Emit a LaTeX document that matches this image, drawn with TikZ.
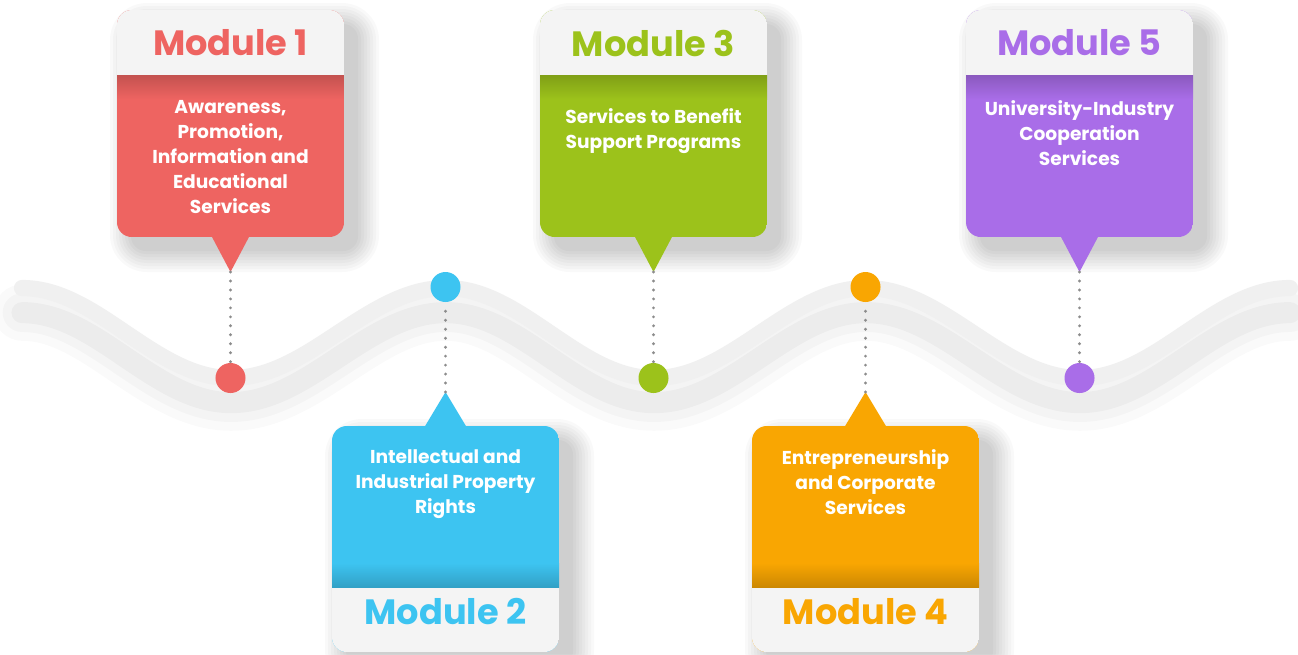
\documentclass[tikz,border=0pt]{standalone}
\usepackage{fontspec}
\setmainfont{Poppins}
\definecolor{cRed}{HTML}{EE6461}
\definecolor{cGreen}{HTML}{9CC21B}
\definecolor{cPurple}{HTML}{A96DE8}
\definecolor{cBlue}{HTML}{3DC4F1}
\definecolor{cOrange}{HTML}{F9A602}
\definecolor{headbg}{HTML}{F4F4F4}
\definecolor{waveC}{HTML}{F0F0F0}
\definecolor{dotC}{HTML}{8C8C8C}
\tikzset{
  headtxt/.style={font=\fontsize{10}{11}\selectfont\bfseries, inner sep=0pt},
  bodytxt/.style={font=\fontsize{5.3}{7.1}\selectfont\bfseries, text=white, align=center, inner sep=0pt, anchor=north},
  dotnode/.style={circle, inner sep=0pt, minimum size=0.3cm},
  dotline/.style={draw=dotC, line width=0.9pt, dash pattern=on 0pt off 2.55pt, line cap=round},
  shadowlayer/.style={fill=black, opacity=0.022},
  wave/.style={insert path={(22,288) cos (126,333) sin (231,378) cos (338,333) sin (446,288) cos (550,333) sin (654,378) cos (760,333) sin (866,288) cos (973,333) sin (1080,378) cos (1185,333) sin (1290,288)}}
}
% soft shadow of a box: #1 left, #2 top, #3 right, #4 bottom
\newcommand{\softshadow}[4]{%
  \foreach \i in {0,...,7}{%
    \fill[shadowlayer, rounded corners={(4.2+0.9*\i)*1pt}] (#1+14-3*\i,#2+14-3*\i) rectangle (#3+14+3*\i,#4+14+3*\i);
  }%
}
% #1 left x, #2 colour, #3 id, #4 header, #5 body text, #6 text top y
\newcommand{\modtop}[6]{%
  \softshadow{#1}{10}{#1+227}{237}
  \begin{scope}
    \clip[rounded corners=4.2pt] (#1,10) rectangle ++(227,227);
    \fill[#2] (#1,10) rectangle ++(227,227);
    \fill[headbg] (#1,10) rectangle ++(227,65);
    \shade[top color=#2!82!black, bottom color=#2] (#1,75) rectangle ++(227,24);
  \end{scope}
  \fill[#2] (#1+94.5,236) -- (#1+132.5,236) -- (#1+113.5,272) -- cycle;
  \coordinate (tip#3) at (#1+113.5,272);
  \node[headtxt, text=#2] (h#3) at (#1+113.5,43) {#4};
  \node[bodytxt] (b#3) at (#1+113.5,#6) {#5};
  \node[dotnode, fill=#2] (d#3) at (#1+113.5,378) {};
  \draw[dotline] (tip#3) -- (d#3);
}
\newcommand{\modbot}[6]{%
  \softshadow{#1}{426}{#1+227}{652}
  \begin{scope}
    \clip[rounded corners=4.2pt] (#1,426) rectangle ++(227,226);
    \fill[#2] (#1,426) rectangle ++(227,226);
    \fill[headbg] (#1,587) rectangle ++(227,65);
    \shade[top color=#2, bottom color=#2!82!black] (#1,563) rectangle ++(227,24);
  \end{scope}
  \fill[#2] (#1+92.5,427) -- (#1+134.5,427) -- (#1+113.5,392) -- cycle;
  \coordinate (tip#3) at (#1+113.5,392);
  \node[headtxt, text=#2] (h#3) at (#1+113.5,612) {#4};
  \node[bodytxt] (b#3) at (#1+113.5,#6) {#5};
  \node[dotnode, fill=#2] (d#3) at (#1+113.5,287) {};
  \draw[dotline] (tip#3) -- (d#3);
}
\begin{document}
\begin{tikzpicture}[x=0.01cm,y=-0.01cm]
\useasboundingbox (0,0) rectangle (1298,654);
\fill[white] (0,0) rectangle (1298,654);
% wave shadow
\begin{scope}[yshift=-7pt]
  \draw[line width=16pt, black, opacity=0.02, line cap=round] [wave];
  \draw[line width=11pt, black, opacity=0.025, line cap=round] [wave];
  \draw[line width=6pt, black, opacity=0.03, line cap=round] [wave];
\end{scope}
\draw[line width=4.6pt, waveC, line cap=round] [wave];
% modules
\modtop{117}{cRed}{1}{Module 1}{Awareness,\\Promotion,\\Information and\\Educational\\Services}{100}
\modtop{540}{cGreen}{3}{Module 3}{Services to Benefit\\Support Programs}{108}
\modtop{966}{cPurple}{5}{Module 5}{University-Industry\\Cooperation\\Services}{100}
\modbot{332}{cBlue}{2}{Module 2}{Intellectual and\\Industrial Property\\Rights}{449}
\modbot{752}{cOrange}{4}{Module 4}{Entrepreneurship\\and Corporate\\Services}{449}
\end{tikzpicture}
\end{document}
